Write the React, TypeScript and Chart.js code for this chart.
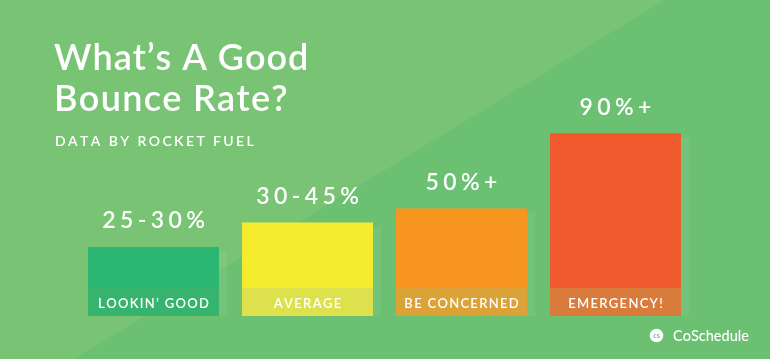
import React, { useEffect, useRef } from "react";
import { Chart, registerables } from "chart.js";

Chart.register(...registerables);

const categories = ["LOOKIN\u2019 GOOD", "AVERAGE", "BE CONCERNED", "EMERGENCY!"];
const valueLabels = ["25-30%", "30-45%", "50%+", "90%+"];
const barValues = [34, 46, 53, 90];
const barColors = ["#2bb673", "#f5ec2f", "#f7951e", "#f05a2c"];
const bandColors = ["#36b46e", "#dde14c", "#dba337", "#d97b3b"];
const titleLines = ["What\u2019s A Good", "Bounce Rate?"];
const subtitle = "DATA BY ROCKET FUEL";
const brand = "CoSchedule";

const BG_LIGHT = "#78c474";
const BG_DARK = "#6bc072";

function drawSpaced(
  ctx: CanvasRenderingContext2D,
  text: string,
  x: number,
  y: number,
  spacing: number,
  align: "left" | "center"
) {
  const chars = Array.from(text);
  const widths = chars.map((c) => ctx.measureText(c).width);
  const total = widths.reduce((a, b) => a + b, 0) + spacing * (chars.length - 1);
  let cx = align === "center" ? x - total / 2 : x;
  ctx.textAlign = "left";
  chars.forEach((c, i) => {
    ctx.fillText(c, cx, y);
    cx += widths[i] + spacing;
  });
}

const decorPlugin = {
  id: "decor",
  beforeDraw(chart: any) {
    const { ctx, width, height } = chart;
    ctx.save();
    ctx.fillStyle = BG_DARK;
    ctx.fillRect(0, 0, width, height);
    const slope = -0.608;
    ctx.fillStyle = BG_LIGHT;
    ctx.beginPath();
    ctx.moveTo(0, 0);
    ctx.lineTo(380 + (0 - 173) / slope, 0);
    ctx.lineTo(380 + (height - 173) / slope, height);
    ctx.lineTo(0, height);
    ctx.closePath();
    ctx.fill();
    ctx.restore();
  },
  afterDatasetsDraw(chart: any) {
    const { ctx } = chart;
    const meta = chart.getDatasetMeta(0);
    const base = chart.scales.y.getPixelForValue(0);
    const bandH = 28;
    ctx.save();
    ctx.textBaseline = "alphabetic";
    meta.data.forEach((bar: any, i: number) => {
      const left = bar.x - bar.width / 2;
      ctx.fillStyle = "rgba(255,255,255,0.06)";
      ctx.fillRect(left + bar.width, bar.y + 4, 8, base - bar.y - 4);
      ctx.fillStyle = bandColors[i];
      ctx.fillRect(left, base - bandH, bar.width, bandH);
      ctx.fillStyle = "#ffffff";
      ctx.font = "600 13px Lato";
      drawSpaced(ctx, categories[i], bar.x, base - 8, 1.3, "center");
      ctx.font = "600 23px Lato";
      drawSpaced(ctx, valueLabels[i], bar.x, bar.y - 18.5, 4.4, "center");
    });

    ctx.fillStyle = "#ffffff";
    ctx.font = "600 36px Lato";
    drawSpaced(ctx, titleLines[0], 54, 70, 0.95, "left");
    drawSpaced(ctx, titleLines[1], 54, 111, 1.3, "left");
    ctx.font = "600 14px Lato";
    drawSpaced(ctx, subtitle, 55, 146, 2.4, "left");

    ctx.beginPath();
    ctx.arc(656.5, 335.5, 6.8, 0, Math.PI * 2);
    ctx.fillStyle = "#ffffff";
    ctx.fill();
    ctx.fillStyle = BG_DARK;
    ctx.font = "bold 7px Lato";
    ctx.textAlign = "center";
    ctx.fillText("cs", 656.5, 338);
    ctx.fillStyle = "#ffffff";
    ctx.font = "500 14.5px Lato";
    drawSpaced(ctx, brand, 673, 341, 0, "left");
    ctx.restore();
  },
};

export default function App() {
  const ref = useRef<HTMLCanvasElement | null>(null);
  useEffect(() => {
    if (!ref.current) return;
    const chart = new Chart(ref.current, {
      type: "bar",
      data: {
        labels: categories,
        datasets: [
          {
            data: barValues,
            backgroundColor: barColors,
            borderWidth: 0,
            barPercentage: 0.85,
            categoryPercentage: 1,
          },
        ],
      },
      options: {
        responsive: false,
        animation: false,
        events: [],
        layout: { padding: { left: 76.5, right: 77.5, top: 113, bottom: 43 } },
        scales: {
          x: { display: false },
          y: { display: false, min: 0, max: 100 },
        },
        plugins: { legend: { display: false }, tooltip: { enabled: false } },
      },
      plugins: [decorPlugin],
    });
    return () => chart.destroy();
  }, []);
  return (
    <div style={{ position: "absolute", left: 0, top: 0, width: 770, height: 359 }}>
      <canvas ref={ref} width={770} height={359} style={{ display: "block", width: 770, height: 359 }} />
    </div>
  );
}
